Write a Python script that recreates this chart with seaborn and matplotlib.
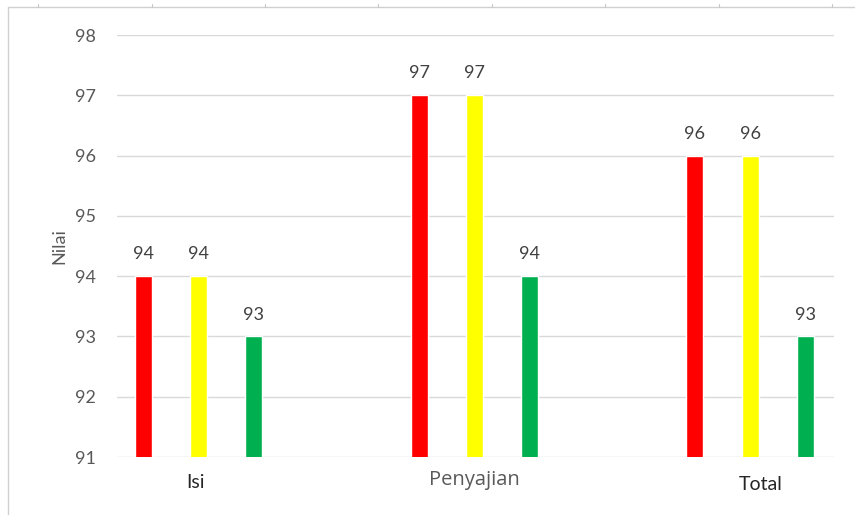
import pandas as pd
import matplotlib.pyplot as plt
import matplotlib.transforms as mtransforms
from matplotlib.lines import Line2D
import seaborn as sns

# Data
categories = ['Isi', 'Penyajian', 'Total']
series_names = ['A', 'B', 'C']
values_a = [94, 97, 96]
values_b = [94, 97, 96]
values_c = [93, 94, 93]
bar_colors = ['#FF0000', '#FFFF00', '#00B050']

df = pd.DataFrame({
    'Kategori': categories * 3,
    'Seri': [s for s in series_names for _ in categories],
    'Nilai': values_a + values_b + values_c,
})

sns.set_theme(style='white')
plt.rcParams['font.family'] = ['Lato', 'DejaVu Sans']

fig = plt.figure(figsize=(8.55, 5.15), dpi=100)
ax = fig.add_axes([0.137, 0.1126, 0.838, 0.8194])

sns.barplot(data=df, x='Kategori', y='Nilai', hue='Seri', order=categories,
            hue_order=series_names, palette=bar_colors, width=0.6, gap=0.69,
            saturation=1, legend=False, ax=ax)

ax.set_ylim(91, 98)
ax.set_xlim(-0.295, 2.303)
ax.set_yticks(range(91, 99))
ax.grid(axis='y', color='#D9D9D9', linewidth=1)
ax.set_axisbelow(True)
for s in ax.spines.values():
    s.set_visible(False)
ax.tick_params(axis='both', length=0)
ax.tick_params(axis='y', labelsize=13, labelcolor='#595959', pad=15)
ax.tick_params(axis='x', labelsize=14, pad=12)

ax.set_xlabel('')
ax.set_ylabel('Nilai', fontsize=13, color='#595959', labelpad=6)

# x labels: slight offsets, colours and fonts as in the original
label_style = [(-3, 0, '#262626', 'Lato', 14),
               (0, 4, '#595959', 'Open Sans', 14.5),
               (11, -2, '#262626', 'Lato', 14)]
for lbl, (dx, dy, col, fam, size) in zip(ax.get_xticklabels(), label_style):
    lbl.set_color(col)
    lbl.set_family(fam)
    lbl.set_fontsize(size)
    lbl.set_transform(lbl.get_transform() +
                      mtransforms.ScaledTranslation(dx / 100, dy / 100, fig.dpi_scale_trans))

for cont in ax.containers:
    ax.bar_label(cont, fmt='%d', padding=10, fontsize=13, color='#404040')

# screenshot frame
fig.add_artist(Line2D([8 / 855, 1], [1 - 7 / 515] * 2, color='#D0D0D0', lw=1))
fig.add_artist(Line2D([8 / 855] * 2, [0, 1 - 7 / 515], color='#D0D0D0', lw=1))
for px in [38, 152, 265, 378, 492, 605, 719, 832]:
    fig.add_artist(Line2D([px / 855] * 2, [1 - 7 / 515, 1 - 4 / 515], color='#C8C8C8', lw=0.8))

fig.savefig('out.png', dpi=100)
